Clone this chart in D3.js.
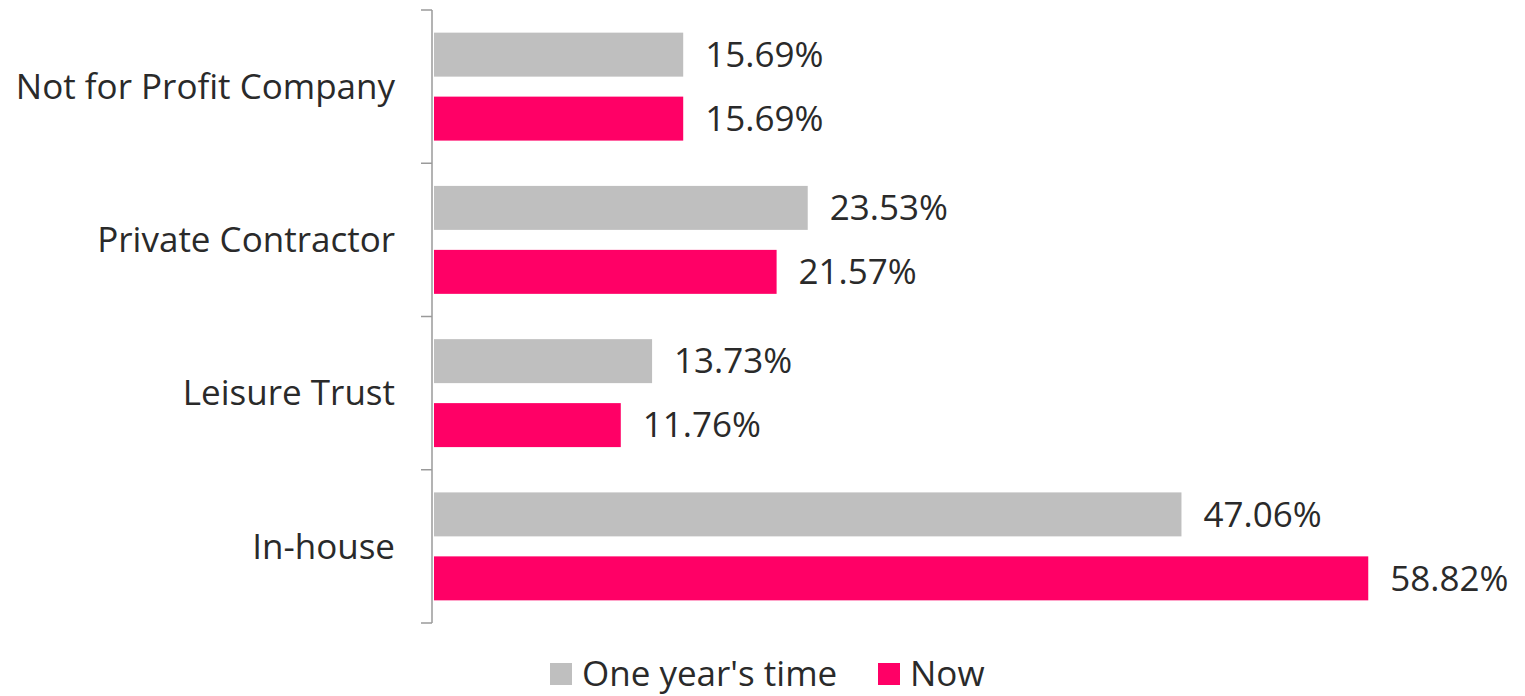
<!DOCTYPE html>
<html>
<head>
<meta charset="utf-8">
<script src="https://cdn.jsdelivr.net/npm/d3@7"></script>
<style>
  body { margin: 0; background: #fff; }
  text { font-family: "Open Sans", sans-serif; fill: #2a2a2a; }
</style>
</head>
<body>
<svg width="1525" height="696"></svg>
<script>
var categories = ["Not for Profit Company", "Private Contractor", "Leisure Trust", "In-house"];
var series = ["One year's time", "Now"];
var oneYear = [15.69, 23.53, 13.73, 47.06];
var now = [15.69, 21.57, 11.76, 58.82];
var colors = ["#bfbfbf", "#ff0066"];

var svg = d3.select("svg");

var data = categories.map(function (c, i) {
    return { cat: c, values: [oneYear[i], now[i]] };
});

var x = d3.scaleLinear().domain([0, 60]).range([434, 434 + 953]);
var y = d3.scaleBand().domain(categories).range([10, 623]);
var ys = d3.scaleBand().domain(series).range([0, y.bandwidth()])
    .paddingInner(0.3125).paddingOuter(0.354);

// axis line + ticks at band boundaries
var axisX = 432;
svg.append("line")
    .attr("x1", axisX).attr("x2", axisX)
    .attr("y1", y.range()[0]).attr("y2", y.range()[1])
    .attr("stroke", "#9a9a9a").attr("stroke-width", 1.5);

var bounds = categories.map(function (c) { return y(c); }).concat([y.range()[1]]);
svg.selectAll(".tick").data(bounds).enter().append("line")
    .attr("x1", axisX - 11).attr("x2", axisX)
    .attr("y1", function (d) { return d; }).attr("y2", function (d) { return d; })
    .attr("stroke", "#9a9a9a").attr("stroke-width", 1.5);

var groups = svg.selectAll(".cat").data(data).enter().append("g")
    .attr("class", "cat")
    .attr("transform", function (d) { return "translate(0," + y(d.cat) + ")"; });

groups.append("text")
    .attr("x", 395)
    .attr("y", y.bandwidth() / 2)
    .attr("dy", "0.35em")
    .attr("text-anchor", "end")
    .attr("font-size", "35px")
    .text(function (d) { return d.cat; });

var bars = groups.selectAll(".bar")
    .data(function (d) { return d.values.map(function (v, i) { return { s: series[i], v: v, i: i }; }); })
    .enter();

bars.append("rect")
    .attr("x", x(0))
    .attr("y", function (d) { return ys(d.s); })
    .attr("width", function (d) { return x(d.v) - x(0); })
    .attr("height", ys.bandwidth())
    .attr("fill", function (d) { return colors[d.i]; });

bars.append("text")
    .attr("x", function (d) { return x(d.v) + 22; })
    .attr("y", function (d) { return ys(d.s) + ys.bandwidth() / 2; })
    .attr("dy", "0.35em")
    .attr("font-size", "35px")
    .text(function (d) { return d.v.toFixed(2) + "%"; });

// legend
var legend = svg.append("g").attr("transform", "translate(0,674)");
var legendX = [550, 878];
series.forEach(function (s, i) {
    legend.append("rect")
        .attr("x", legendX[i]).attr("y", -11)
        .attr("width", 22).attr("height", 22)
        .attr("fill", colors[i]);
    legend.append("text")
        .attr("x", legendX[i] + 32).attr("y", 0)
        .attr("dy", "0.35em")
        .attr("font-size", "35px")
        .text(s);
});
</script>
</body>
</html>
